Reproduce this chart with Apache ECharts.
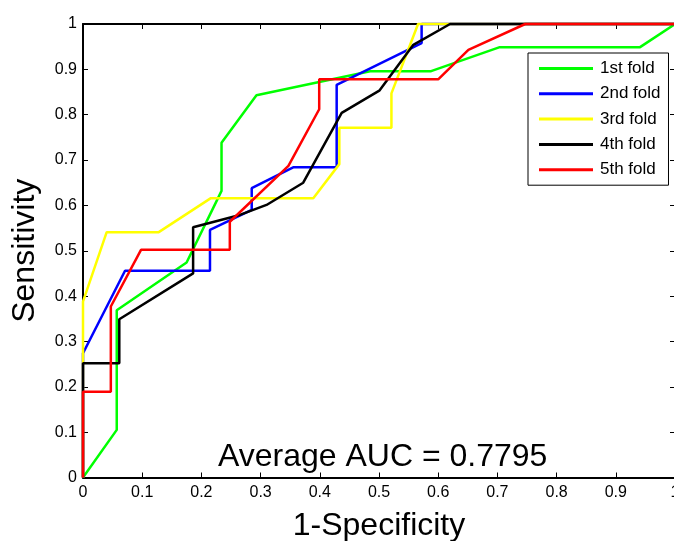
<!DOCTYPE html>
<html>
<head>
<meta charset="utf-8">
<script src="https://cdn.jsdelivr.net/npm/echarts@6/dist/echarts.min.js"></script>
<style>
html,body{margin:0;padding:0;background:#fff;}
#chart{width:674px;height:541px;}
</style>
</head>
<body>
<div id="chart"></div>
<script>
// ROC curve points [1-Specificity, Sensitivity]
var fold1 = [[0,0],[0.057,0.105],[0.057,0.369],[0.175,0.474],[0.234,0.632],[0.234,0.738],[0.293,0.843],[0.485,0.896],[0.588,0.896],[0.704,0.949],[0.941,0.949],[1,1]];
var fold2 = [[0,0],[0,0.274],[0.071,0.456],[0.2145,0.456],[0.2145,0.546],[0.285,0.590],[0.285,0.638],[0.355,0.684],[0.4285,0.684],[0.4285,0.866],[0.572,0.958],[0.572,1],[1,1]];
var fold3 = [[0,0],[0,0.388],[0.040,0.541],[0.128,0.541],[0.216,0.616],[0.389,0.616],[0.433,0.691],[0.433,0.771],[0.521,0.771],[0.521,0.847],[0.566,1],[1,1]];
var fold4 = [[0,0],[0,0.252],[0.0613,0.252],[0.0613,0.349],[0.186,0.450],[0.186,0.552],[0.265,0.579],[0.310,0.601],[0.372,0.650],[0.437,0.804],[0.5005,0.853],[0.558,0.954],[0.620,1],[1,1]];
var fold5 = [[0,0],[0,0.189],[0.047,0.189],[0.047,0.377],[0.098,0.502],[0.248,0.502],[0.248,0.564],[0.347,0.687],[0.399,0.812],[0.399,0.878],[0.600,0.878],[0.651,0.943],[0.747,1],[1,1]];
var seriesNames = ['1st fold','2nd fold','3rd fold','4th fold','5th fold'];
var seriesColors = ['#00ff00','#0000ff','#ffff00','#000000','#ff0000'];
var seriesData = [fold1, fold2, fold3, fold4, fold5];
var aucText = 'Average AUC = 0.7795';
var xName = '1-Specificity';
var yName = 'Sensitivity';

var FONT = "'Liberation Sans', Arial, Helvetica, sans-serif";
var chart = echarts.init(document.getElementById('chart'), null, {renderer:'canvas'});

function mkAxis(pos, showLabel, isX){
  return {
    type:'value', min:0, max:1, interval:0.1, position:pos,
    axisLine:{show:true, onZero:false, lineStyle:{color:'#000', width:2}},
    axisTick:{show:true, inside:true, length:5, lineStyle:{color:'#000', width:1}},
    splitLine:{show:false},
    axisLabel:{show:showLabel, color:'#000', fontFamily:FONT, fontSize:16, margin: isX ? 7 : 6}
  };
}

var xMain = mkAxis('bottom', true, true);
xMain.name = xName; xMain.nameLocation = 'middle'; xMain.nameGap = 33;
xMain.nameTextStyle = {color:'#000', fontFamily:FONT, fontSize:32};
var yMain = mkAxis('left', true, false);
yMain.name = yName; yMain.nameLocation = 'middle'; yMain.nameGap = 42;
yMain.nameTextStyle = {color:'#000', fontFamily:FONT, fontSize:32};

var series = seriesData.map(function(d, i){
  return {
    name: seriesNames[i], type:'line', data:d, symbol:'none', showSymbol:false,
    clip:false, color: seriesColors[i],
    lineStyle:{color: seriesColors[i], width:2.5},
    itemStyle:{color: seriesColors[i]},
    xAxisIndex:0, yAxisIndex:0, animation:false, z: 3 + i
  };
});

chart.setOption({
  backgroundColor:'#fff',
  animation:false,
  grid:{left:83, top:24, width:592, height:453.5, containLabel:false, outerBoundsMode:'none'},
  xAxis:[xMain, mkAxis('top', false, true)],
  yAxis:[yMain, mkAxis('right', false, false)],
  legend:{
    orient:'vertical', left:528, top:53,
    padding:[7,8,7,11], itemWidth:54, itemHeight:3, itemGap:8.3,
    icon:'rect',
    backgroundColor:'#fff', borderColor:'#000', borderWidth:1, borderRadius:0,
    textStyle:{color:'#000', fontFamily:FONT, fontSize:17, padding:[0,0,0,2]},
    data: seriesNames.map(function(n, i){ return {name:n, icon:'rect', itemStyle:{color:seriesColors[i]}}; })
  },
  graphic:[{
    type:'text', left:218, top:441, z:100,
    style:{text: aucText, fill:'#000', font:'32px ' + FONT}
  }],
  series: series
});
</script>
</body>
</html>
